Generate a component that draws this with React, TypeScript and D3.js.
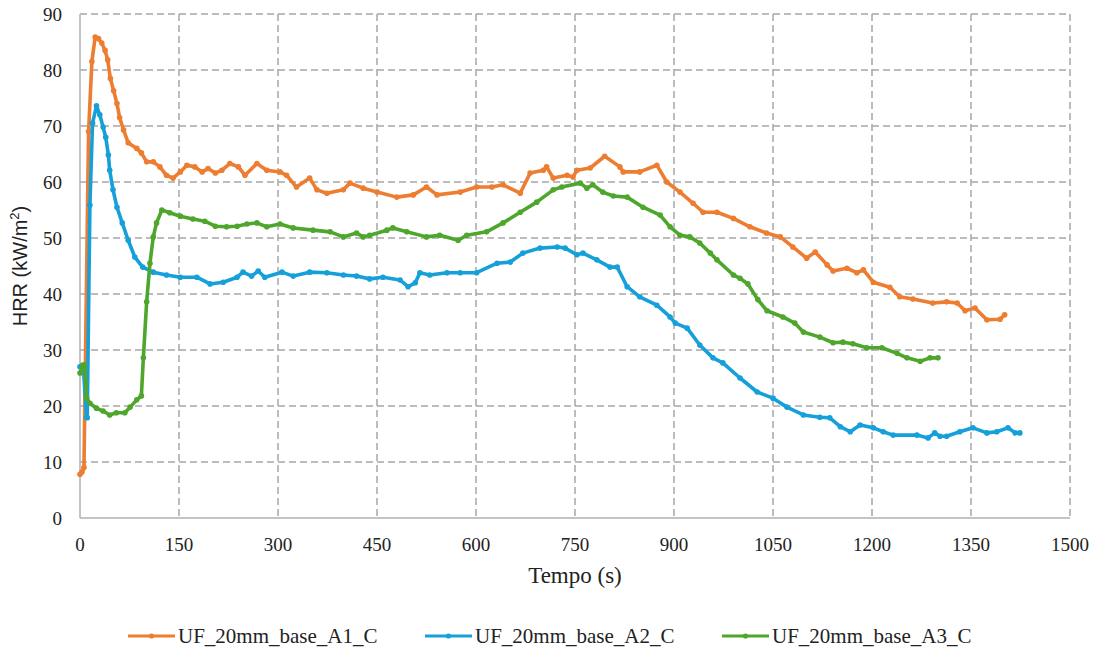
import React, { useEffect, useRef } from 'react';
import * as d3 from 'd3';

// [tempo (s), HRR (kW/m2)]
const seriesA1 = [
  [0, 7.8], [3, 8.2], [6, 9], [13, 69], [18, 81.5], [23, 85.9], [28, 85.6], [33, 84.8],
  [38, 83.5], [42, 81.8], [46, 78.5], [51, 76.3], [56, 74], [60, 71.5], [66, 69.3], [73, 67],
  [86, 66], [93, 65.2], [101, 63.6], [111, 63.6], [121, 62.7], [131, 61.2], [141, 60.7],
  [152, 61.8], [162, 63], [174, 62.7], [185, 61.8], [194, 62.4], [205, 61.6], [215, 62.1],
  [227, 63.3], [240, 62.7], [250, 61.2], [268, 63.3], [283, 62.1], [303, 61.8], [313, 61.2],
  [328, 59.1], [348, 60.7], [359, 58.6], [374, 58], [399, 58.6], [409, 59.8], [429, 58.9],
  [450, 58.2], [480, 57.3], [505, 57.7], [525, 59.1], [541, 57.7], [576, 58.2], [601, 59.1],
  [624, 59.1], [641, 59.5], [667, 58], [682, 61.6], [702, 62.1], [707, 62.7], [717, 60.7],
  [738, 61.2], [747, 60.9], [753, 62.1], [773, 62.5], [795, 64.6], [818, 62.7], [823, 61.8],
  [848, 61.8], [874, 63], [889, 60], [909, 58.2], [929, 56.2], [944, 54.6], [965, 54.6],
  [990, 53.5], [1015, 52], [1040, 50.9], [1061, 50.2], [1080, 48.4], [1101, 46.4],
  [1114, 47.5], [1132, 45.2], [1141, 44.1], [1162, 44.6], [1177, 43.8], [1187, 44.3],
  [1202, 42.1], [1227, 41.2], [1242, 39.5], [1262, 39.1], [1292, 38.4], [1313, 38.6],
  [1329, 38.4], [1341, 37], [1356, 37.5], [1374, 35.4], [1394, 35.5], [1401, 36.3],
];

const seriesA2 = [
  [0, 27], [5, 27], [10, 18], [11, 17.9], [15, 55.9], [19, 70.5], [25, 73.6], [30, 72],
  [35, 69.8], [39, 68], [43, 64.8], [45, 62.1], [50, 58.6], [56, 55.5], [64, 52.7],
  [73, 49.6], [83, 46.6], [95, 44.8], [111, 43.9], [131, 43.4], [152, 43], [177, 43],
  [197, 41.8], [217, 42.1], [238, 43], [247, 43.9], [260, 43.2], [270, 44.1], [280, 43],
  [306, 43.9], [323, 43.2], [348, 43.9], [374, 43.8], [399, 43.4], [419, 43.2], [439, 42.7],
  [459, 43], [485, 42.5], [497, 41.3], [508, 42], [515, 43.8], [530, 43.4], [556, 43.8],
  [576, 43.8], [601, 43.8], [632, 45.5], [652, 45.7], [671, 47.3], [697, 48.2], [723, 48.4],
  [735, 48.2], [753, 47], [762, 47.3], [783, 46.1], [803, 44.8], [814, 44.8], [829, 41.3],
  [848, 39.5], [874, 38], [894, 35.9], [902, 34.8], [920, 33.9], [939, 30.9], [959, 28.6],
  [974, 27.7], [1000, 25], [1026, 22.5], [1050, 21.4], [1071, 19.8], [1096, 18.4],
  [1121, 18], [1136, 17.9], [1152, 16.3], [1167, 15.4], [1182, 16.6], [1202, 16.1],
  [1217, 15.4], [1232, 14.8], [1268, 14.8], [1285, 14.3], [1295, 15.2], [1303, 14.6],
  [1313, 14.6], [1333, 15.4], [1353, 16.1], [1374, 15.2], [1389, 15.4], [1406, 16.1],
  [1417, 15.2], [1424, 15.2],
];

const seriesA3 = [
  [0, 25.9], [4, 27.3], [7, 27.3], [10, 21.4], [15, 20.5], [25, 19.6], [35, 19.1],
  [45, 18.4], [55, 18.8], [68, 18.8], [76, 19.8], [86, 21.1], [93, 21.8], [96, 28.6],
  [101, 38.6], [106, 45.5], [111, 50.2], [116, 52.7], [124, 55], [136, 54.5], [152, 53.9],
  [171, 53.4], [189, 53], [205, 52.1], [222, 52], [238, 52.1], [253, 52.5], [268, 52.7],
  [283, 52], [303, 52.5], [323, 51.8], [353, 51.4], [379, 51.1], [399, 50.2], [419, 50.9],
  [429, 50.2], [439, 50.5], [465, 51.4], [474, 51.8], [495, 51.1], [525, 50.2], [545, 50.5],
  [573, 49.6], [586, 50.5], [616, 51.1], [641, 52.7], [667, 54.6], [692, 56.4], [717, 58.6],
  [730, 59.1], [758, 59.8], [768, 58.9], [777, 59.5], [792, 58.2], [808, 57.5], [829, 57.3],
  [853, 55.5], [879, 54.1], [894, 52], [909, 50.5], [924, 50.2], [939, 49.1], [955, 47.3],
  [965, 46.1], [990, 43.4], [1000, 42.8], [1012, 41.8], [1027, 39], [1041, 37], [1065, 35.9],
  [1083, 34.8], [1096, 33.2], [1121, 32.3], [1141, 31.3], [1156, 31.4], [1171, 31.1],
  [1192, 30.4], [1215, 30.4], [1238, 29.4], [1253, 28.6], [1273, 28], [1288, 28.6], [1300, 28.6],
];

const seriesNames = ['UF_20mm_base_A1_C', 'UF_20mm_base_A2_C', 'UF_20mm_base_A3_C'];
const seriesColors = ['#ED7D31', '#16A0DA', '#4EA72C'];
const xTicks = [0, 150, 300, 450, 600, 750, 900, 1050, 1200, 1350, 1500];
const yTicks = [0, 10, 20, 30, 40, 50, 60, 70, 80, 90];

const width = 1102;
const height = 653;
const margin = { left: 80, right: 32, top: 14, bottom: 135 };

export default function App() {
  const svgRef = useRef<SVGSVGElement>(null);

  useEffect(() => {
    const svg = d3.select(svgRef.current);
    svg.selectAll('*').remove();

    const x = d3.scaleLinear().domain([0, 1500]).range([margin.left, width - margin.right]);
    const y = d3.scaleLinear().domain([0, 90]).range([height - margin.bottom, margin.top]);
    const x0 = x(0);
    const y0 = y(0);

    // grid
    const grid = svg.append('g')
      .attr('stroke', '#A6A6A6')
      .attr('stroke-width', 1.5)
      .attr('stroke-dasharray', '7,4');
    grid.selectAll('line.gx').data(xTicks.filter((t) => t > 0)).enter().append('line')
      .attr('x1', (d) => x(d)).attr('x2', (d) => x(d))
      .attr('y1', y(90)).attr('y2', y0);
    grid.selectAll('line.gy').data(yTicks.filter((t) => t > 0)).enter().append('line')
      .attr('x1', x0).attr('x2', x(1500))
      .attr('y1', (d) => y(d)).attr('y2', (d) => y(d));

    // axes
    svg.append('line').attr('x1', x0).attr('x2', x0).attr('y1', y(90)).attr('y2', y0)
      .attr('stroke', '#B0B0B0').attr('stroke-width', 1.5);
    svg.append('line').attr('x1', x0).attr('x2', x(1500)).attr('y1', y0).attr('y2', y0)
      .attr('stroke', '#B0B0B0').attr('stroke-width', 1.5);

    svg.selectAll('text.ly').data(yTicks).enter().append('text')
      .attr('class', 'ly')
      .attr('x', x0 - 18).attr('y', (d) => y(d)).attr('dy', '0.35em')
      .attr('text-anchor', 'end')
      .text((d) => d);
    svg.selectAll('text.lx').data(xTicks).enter().append('text')
      .attr('class', 'lx')
      .attr('x', (d) => x(d)).attr('y', y0 + 33)
      .attr('text-anchor', 'middle')
      .text((d) => d);
    svg.selectAll('text.ly, text.lx')
      .attr('font-family', 'Liberation Serif')
      .attr('font-size', 19)
      .attr('fill', '#222');

    svg.append('text')
      .attr('x', (x0 + x(1500)) / 2).attr('y', 583)
      .attr('text-anchor', 'middle')
      .attr('font-family', 'Liberation Serif')
      .attr('font-size', 23)
      .attr('fill', '#222')
      .text('Tempo (s)');

    const yl = svg.append('text')
      .attr('transform', `translate(27, ${(y(0) + y(90)) / 2}) rotate(-90)`)
      .attr('text-anchor', 'middle')
      .attr('font-family', 'Liberation Sans')
      .attr('font-size', 20)
      .attr('fill', '#222');
    yl.append('tspan').text('HRR (kW/m');
    yl.append('tspan').attr('dy', -8).attr('font-size', 13).text('2');
    yl.append('tspan').attr('dy', 8).text(')');

    // series
    const line = d3.line<number[]>()
      .x((d) => x(d[0]))
      .y((d) => y(d[1]));
    [seriesA1, seriesA2, seriesA3].forEach((s, i) => {
      svg.append('path')
        .attr('d', line(s))
        .attr('fill', 'none')
        .attr('stroke', seriesColors[i])
        .attr('stroke-width', 3.6)
        .attr('stroke-linejoin', 'round');
      svg.selectAll(`circle.s${i}`).data(s).enter().append('circle')
        .attr('class', `s${i}`)
        .attr('cx', (d) => x(d[0]))
        .attr('cy', (d) => y(d[1]))
        .attr('r', 2.8)
        .attr('fill', seriesColors[i]);
    });

    // legend
    seriesNames.forEach((n, i) => {
      const lx = 128 + i * 297;
      svg.append('line').attr('x1', lx).attr('x2', lx + 47).attr('y1', 636).attr('y2', 636)
        .attr('stroke', seriesColors[i]).attr('stroke-width', 3);
      svg.append('circle').attr('cx', lx + 23.5).attr('cy', 636).attr('r', 2.6)
        .attr('fill', seriesColors[i]);
      svg.append('text').attr('x', lx + 50).attr('y', 643)
        .attr('font-family', 'Liberation Serif')
        .attr('font-size', 21)
        .attr('fill', '#222')
        .text(n);
    });
  }, []);

  return (
    <svg ref={svgRef} width={width} height={height}
      style={{ position: 'absolute', left: 0, top: 0, background: '#fff' }} />
  );
}
